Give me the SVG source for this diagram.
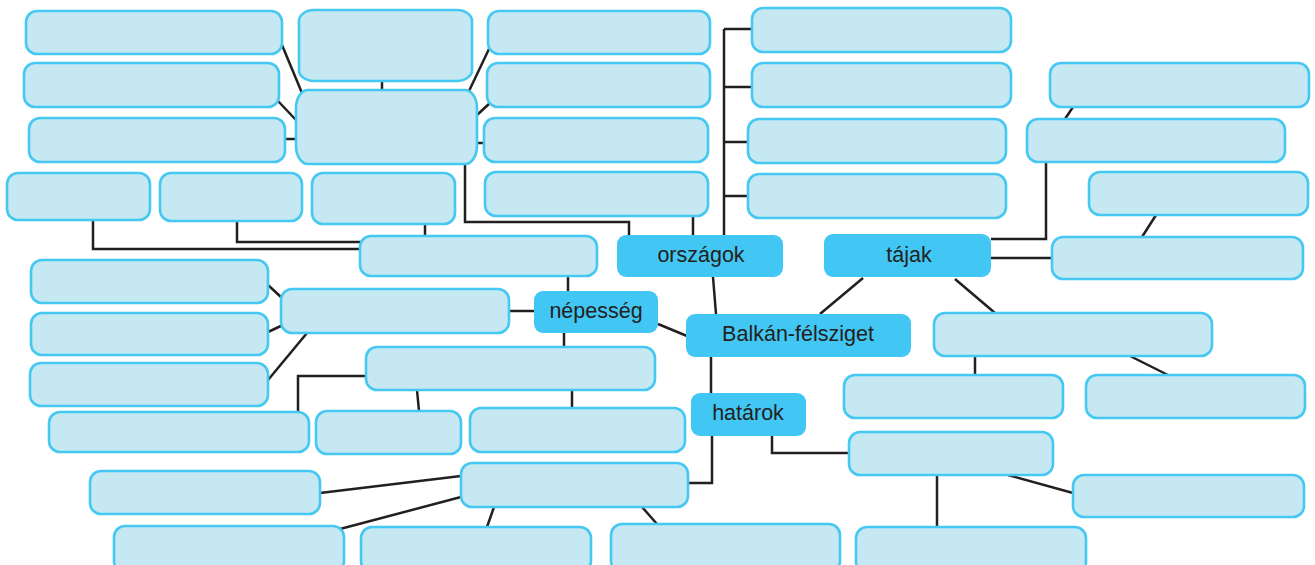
<svg xmlns="http://www.w3.org/2000/svg" width="1315" height="565" viewBox="0 0 1315 565">
<style>
.b{fill:#c6e8f3;stroke:#45c8f2;stroke-width:2.6}
.h{fill:#42c6f3}
.t{font-family:"Liberation Sans",Arial,sans-serif;font-size:21.5px;fill:#231f20;text-anchor:middle}
#connectors path{fill:none;stroke:#231f20;stroke-width:2.5}
</style>
<rect width="1315" height="565" fill="#ffffff"/>
<g id="connectors">
<path d="M282,45 L302,93"/>
<path d="M278,101 L296,120"/>
<path d="M285,139 L297,139"/>
<path d="M382,81 L382,91"/>
<path d="M489,49 L469,91"/>
<path d="M490,103 L477,115"/>
<path d="M484,143 L477,143"/>
<path d="M93,220 L93,249 L360,249"/>
<path d="M237,221 L237,242 L362,242"/>
<path d="M425,224 L425,236"/>
<path d="M465,163 L465,222 L629,222 L629,235"/>
<path d="M693,216 L693,235"/>
<path d="M724,29 L724,235"/>
<path d="M724,29 L752,29 M724,87 L752,87 M724,142 L748,142 M724,196 L748,196"/>
<path d="M713,277 L716,314"/>
<path d="M658,324 L687,336"/>
<path d="M820,314 L863,278"/>
<path d="M711,356 L711,393"/>
<path d="M955,279 L995,313"/>
<path d="M975,356 L975,375"/>
<path d="M1130,356 L1168,375"/>
<path d="M991,239 L1046,239 L1046,162"/>
<path d="M1073,107 L1065,119"/>
<path d="M991,258 L1052,258"/>
<path d="M1156,215 L1142,237"/>
<path d="M510,311 L534,311"/>
<path d="M568,276 L568,291"/>
<path d="M564,333 L564,347"/>
<path d="M268,285 L282,298"/>
<path d="M268,332 L283,325"/>
<path d="M268,380 L307,333"/>
<path d="M366,376 L298,376 L298,412"/>
<path d="M417,390 L419,411"/>
<path d="M572,390 L572,408"/>
<path d="M712,436 L712,483 L688,483"/>
<path d="M320,493 L461,476"/>
<path d="M340,529 L461,497"/>
<path d="M494,507 L487,527"/>
<path d="M642,507 L657,524"/>
<path d="M772,436 L772,453 L849,453"/>
<path d="M937,475 L937,527"/>
<path d="M1008,475 L1073,493"/>
</g>
<g id="n-a1"><rect class="b" x="26" y="11" width="256" height="43" rx="11"/></g>
<g id="n-a2"><rect class="b" x="24" y="63" width="255" height="44" rx="11"/></g>
<g id="n-a3"><rect class="b" x="29" y="118" width="256" height="44" rx="11"/></g>
<g id="n-b1"><rect class="b" x="7" y="173" width="143" height="47" rx="11"/></g>
<g id="n-b2"><rect class="b" x="160" y="173" width="142" height="48" rx="11"/></g>
<g id="n-b3"><rect class="b" x="312" y="173" width="143" height="51" rx="11"/></g>
<g id="n-c"><rect class="b" x="299" y="10" width="173" height="71" rx="15" ry="11"/></g>
<g id="n-d"><rect class="b" x="296" y="90" width="181" height="74" rx="12" ry="18"/></g>
<g id="n-y1"><rect class="b" x="488" y="11" width="222" height="43" rx="11"/></g>
<g id="n-y2"><rect class="b" x="487" y="63" width="223" height="44" rx="11"/></g>
<g id="n-y3"><rect class="b" x="484" y="118" width="224" height="44" rx="11"/></g>
<g id="n-y4"><rect class="b" x="485" y="172" width="223" height="44" rx="11"/></g>
<g id="n-z1"><rect class="b" x="752" y="8" width="259" height="44" rx="11"/></g>
<g id="n-z2"><rect class="b" x="752" y="63" width="259" height="44" rx="11"/></g>
<g id="n-z3"><rect class="b" x="748" y="119" width="258" height="44" rx="11"/></g>
<g id="n-z4"><rect class="b" x="748" y="174" width="258" height="44" rx="11"/></g>
<g id="n-ta1"><rect class="b" x="1050" y="63" width="259" height="44" rx="11"/></g>
<g id="n-ta2"><rect class="b" x="1027" y="119" width="258" height="43" rx="11"/></g>
<g id="n-ta3"><rect class="b" x="1089" y="172" width="219" height="43" rx="11"/></g>
<g id="n-ta4"><rect class="b" x="1052" y="237" width="251" height="42" rx="11"/></g>
<g id="n-e"><rect class="b" x="360" y="236" width="237" height="40" rx="11"/></g>
<g id="n-f"><rect class="b" x="31" y="260" width="237" height="43" rx="11"/></g>
<g id="n-g"><rect class="b" x="31" y="313" width="237" height="42" rx="11"/></g>
<g id="n-hh"><rect class="b" x="30" y="363" width="238" height="43" rx="11"/></g>
<g id="n-i"><rect class="b" x="281" y="289" width="228" height="44" rx="11"/></g>
<g id="n-j"><rect class="b" x="366" y="347" width="289" height="43" rx="11"/></g>
<g id="n-k"><rect class="b" x="49" y="412" width="260" height="40" rx="11"/></g>
<g id="n-l"><rect class="b" x="316" y="411" width="145" height="43" rx="11"/></g>
<g id="n-m"><rect class="b" x="470" y="408" width="215" height="44" rx="11"/></g>
<g id="n-n"><rect class="b" x="461" y="463" width="227" height="44" rx="11"/></g>
<g id="n-o"><rect class="b" x="90" y="471" width="230" height="43" rx="11"/></g>
<g id="n-p"><rect class="b" x="114" y="526" width="230" height="46" rx="11"/></g>
<g id="n-q"><rect class="b" x="361" y="527" width="230" height="45" rx="11"/></g>
<g id="n-r"><rect class="b" x="611" y="524" width="229" height="48" rx="11"/></g>
<g id="n-v"><rect class="b" x="934" y="313" width="278" height="43" rx="11"/></g>
<g id="n-w"><rect class="b" x="844" y="375" width="219" height="43" rx="11"/></g>
<g id="n-x"><rect class="b" x="1086" y="375" width="219" height="43" rx="11"/></g>
<g id="n-s"><rect class="b" x="849" y="432" width="204" height="43" rx="11"/></g>
<g id="n-u"><rect class="b" x="1073" y="475" width="231" height="42" rx="11"/></g>
<g id="n-tt"><rect class="b" x="856" y="527" width="230" height="46" rx="11"/></g>
<g id="n-orszagok"><rect class="h" x="617" y="235" width="166" height="42" rx="9"/><text class="t" x="701" y="262">országok</text></g>
<g id="n-tajak"><rect class="h" x="824" y="234" width="167" height="43" rx="9"/><text class="t" x="909" y="262">tájak</text></g>
<g id="n-nepesseg"><rect class="h" x="534" y="291" width="124" height="42" rx="9"/><text class="t" x="596" y="318">népesség</text></g>
<g id="n-balkan"><rect class="h" x="686" y="314" width="225" height="43" rx="9"/><text class="t" x="798" y="341">Balkán-félsziget</text></g>
<g id="n-hatarok"><rect class="h" x="691" y="393" width="115" height="43" rx="9"/><text class="t" x="748" y="420">határok</text></g>
</svg>
